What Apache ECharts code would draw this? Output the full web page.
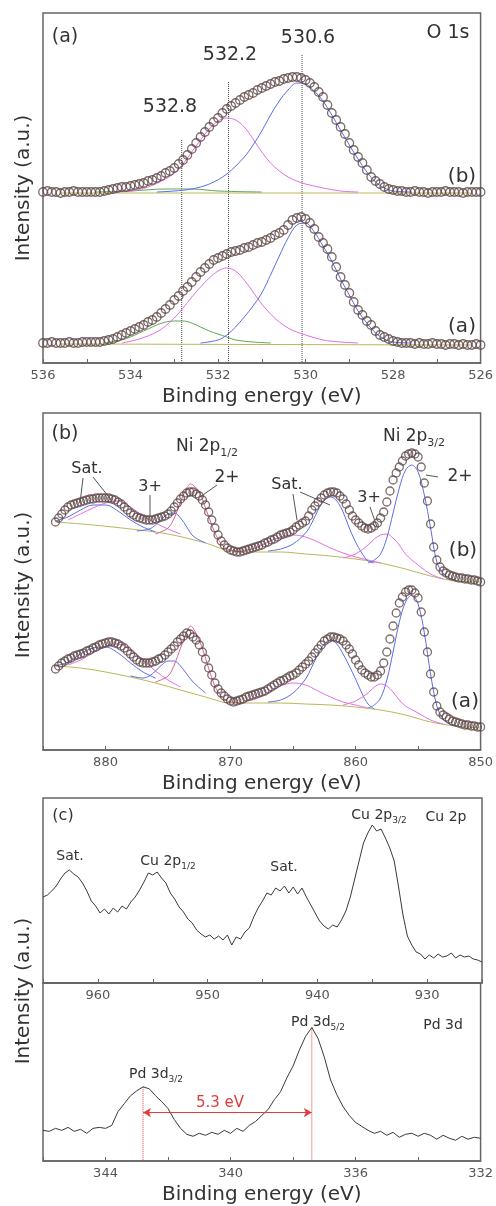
<!DOCTYPE html>
<html>
<head>
<meta charset="utf-8">
<title>XPS spectra</title>
<script src="https://cdn.jsdelivr.net/npm/echarts/dist/echarts.min.js"></script>
<style>
html,body{margin:0;padding:0;background:#fff;}
#chart{width:496px;height:1206px;}
</style>
</head>
<body>
<div id="chart"></div>
<script>
// ---------- (a) O 1s : binding energy grid and spectra (a.u.) ----------
var oBE = [536.0,535.9,535.8,535.7,535.6,535.5,535.4,535.3,535.2,535.1,
           535.0,534.9,534.8,534.7,534.6,534.5,534.4,534.3,534.2,534.1,
           534.0,533.9,533.8,533.7,533.6,533.5,533.4,533.3,533.2,533.1,
           533.0,532.9,532.8,532.7,532.6,532.5,532.4,532.3,532.2,532.1,
           532.0,531.9,531.8,531.7,531.6,531.5,531.4,531.3,531.2,531.1,
           531.0,530.9,530.8,530.7,530.6,530.5,530.4,530.3,530.2,530.1,
           530.0,529.9,529.8,529.7,529.6,529.5,529.4,529.3,529.2,529.1,
           529.0,528.9,528.8,528.7,528.6,528.5,528.4,528.3,528.2,528.1,
           528.0,527.9,527.8,527.7,527.6,527.5,527.4,527.3,527.2,527.1,
           527.0,526.9,526.8,526.7,526.6,526.5,526.4,526.3,526.2,526.1,
           526.0];
// sample (b), upper trace
var oB = [171,172,171,171,170,171,171,172,171,171,
          171,171,171,171,172,173,174,175,176,176,
          177,178,179,180,182,183,185,187,190,192,
          195,199,203,208,214,220,226,231,236,241,
          245,250,254,257,260,263,266,268,270,273,
          275,277,279,281,282,284,285,286,286,285,
          283,280,276,271,266,258,250,243,236,229,
          220,213,206,200,193,186,182,179,176,174,
          173,172,172,171,171,172,171,171,170,171,
          171,171,172,171,171,171,170,171,171,171,
          171];
// sample (a), lower trace
var oA = [20,20,21,20,20,20,21,20,20,21,
          21,21,21,21,22,23,24,26,28,30,
          32,34,36,38,41,43,46,50,54,58,
          63,67,72,76,81,86,91,95,99,103,
          105,107,109,111,112,113,115,116,118,120,
          121,123,125,128,130,133,138,143,145,146,
          144,140,134,126,120,114,106,96,86,78,
          70,61,53,48,42,38,32,28,26,24,
          22,21,20,20,20,19,20,19,19,20,
          19,19,18,19,19,18,19,18,18,19,
          18];
// fitted components [BE, intensity]
var oBblue = [[533.4,171],[533.0,172],[532.6,174],[532.2,179],[531.8,189],[531.4,206],[531.2,218],[531.0,232],[530.8,248],[530.6,262],[530.4,273],[530.2,280],[530.0,279],[529.8,272],[529.6,262],[529.4,248],[529.2,233],[529.0,218],[528.8,204],[528.6,191],[528.4,181],[528.2,175],[528.0,172],[527.6,171]];
var oBmag = [[534.4,171],[534.0,172],[533.6,176],[533.2,184],[533.0,190],[532.8,199],[532.6,211],[532.4,223],[532.2,234],[532.0,242],[531.8,245],[531.6,243],[531.4,236],[531.2,224],[531.0,211],[530.8,200],[530.6,192],[530.4,186],[530.2,182],[530.0,179],[529.6,175],[529.2,172],[528.8,171]];
var oBgreen = [[534.8,171],[534.0,172],[533.2,174],[532.6,174],[532.0,172],[531.0,171]];
var oBbase = [[535.6,170],[526.2,170]];
var oAblue = [[532.4,20],[532.0,23],[531.8,28],[531.6,36],[531.4,46],[531.2,57],[531.0,70],[530.8,88],[530.6,107],[530.4,125],[530.2,138],[530.0,140],[529.8,131],[529.6,117],[529.4,102],[529.2,84],[529.0,68],[528.8,52],[528.6,40],[528.4,30],[528.2,24],[528.0,21],[527.6,20]];
var oAmag = [[534.2,20],[533.8,24],[533.4,31],[533.2,37],[533.0,45],[532.8,55],[532.6,66],[532.4,76],[532.2,85],[532.0,92],[531.8,95],[531.6,92],[531.4,83],[531.2,71],[531.0,59],[530.8,49],[530.6,41],[530.4,35],[530.2,31],[530.0,28],[529.6,23],[529.2,21],[528.8,20]];
var oAgreen = [[534.6,20],[534.2,23],[534.0,26],[533.8,30],[533.6,34],[533.4,38],[533.2,41],[533.0,42],[532.8,42],[532.6,40],[532.4,36],[532.2,32],[532.0,29],[531.8,26],[531.6,23],[531.2,21],[530.8,20]];
var oAbase = [[535.6,19],[526.2,18]];
var oPeakBE = [532.83, 531.76, 530.08];
var oPeakTop = [223, 281, 308];

// ---------- (b) Ni 2p ----------
var nBE = [884,883.75,883.5,883.25,883,882.75,882.5,882.25,
           882,881.75,881.5,881.25,881,880.75,880.5,880.25,
           880,879.75,879.5,879.25,879,878.75,878.5,878.25,
           878,877.75,877.5,877.25,877,876.75,876.5,876.25,
           876,875.75,875.5,875.25,875,874.75,874.5,874.25,
           874,873.75,873.5,873.25,873,872.75,872.5,872.25,
           872,871.75,871.5,871.25,871,870.75,870.5,870.25,
           870,869.75,869.5,869.25,869,868.75,868.5,868.25,
           868,867.75,867.5,867.25,867,866.75,866.5,866.25,
           866,865.75,865.5,865.25,865,864.75,864.5,864.25,
           864,863.75,863.5,863.25,863,862.75,862.5,862.25,
           862,861.75,861.5,861.25,861,860.75,860.5,860.25,
           860,859.75,859.5,859.25,859,858.75,858.5,858.25,
           858,857.75,857.5,857.25,857,856.75,856.5,856.25,
           856,855.75,855.5,855.25,855,854.75,854.5,854.25,
           854,853.75,853.5,853.25,853,852.75,852.5,852.25,
           852,851.75,851.5,851.25,851,850.75,850.5,850.25,
           850];
var nB = [228,232,236,240,243,245,246,247,
          248,249,250,251,251,252,252,252,
          252,252,251,250,248,246,243,240,
          237,235,233,232,231,230,230,230,
          231,232,233,234,236,239,243,247,
          251,254,257,258,258,256,254,250,
          245,238,230,222,215,209,205,202,
          200,199,198,198,199,200,201,202,
          203,204,205,207,208,210,211,213,
          215,216,217,218,220,223,225,227,
          229,234,240,244,248,252,255,257,
          258,258,257,254,251,246,240,234,
          230,227,224,222,221,222,224,227,
          232,238,248,259,270,277,283,289,
          294,296,297,296,293,283,267,249,
          226,203,190,183,179,177,175,174,
          173,172,172,171,171,170,170,169,
          168];
var nA = [81,84,87,89,91,92,94,95,
          96,97,99,100,102,103,105,106,
          107,108,108,107,106,104,102,99,
          96,93,90,88,87,87,87,88,
          89,91,92,95,98,101,104,108,
          111,114,117,116,113,110,105,98,
          91,82,75,67,61,57,54,51,
          49,48,49,50,51,53,54,55,
          56,57,58,59,61,63,65,67,
          69,70,72,74,75,77,80,83,
          86,89,93,97,101,105,109,111,
          113,113,112,111,109,105,101,96,
          90,85,80,77,75,73,73,75,
          79,87,98,111,124,137,147,153,
          158,160,160,157,152,138,118,98,
          76,58,44,38,35,33,31,29,
          28,27,26,25,25,24,24,23,
          23];
var nBbase = [[884,228],[881,225],[878,221],[875,216],[872,207],[870,199],[868,198],[866,198],[864,196],[862,194],[860,191],[858,187],[856,181],[854,174],[852,169],[850,168]];
var nB2p3 = [[859,187],[858.5,190],[858,196],[857.5,212],[857,237],[856.5,262],[856,280],[855.5,285],[855,278],[854.5,255],[854,222],[853.5,188],[853,177],[852.5,172],[852,170]];
var nB3p3 = [[861,192],[860,196],[859,205],[858.5,211],[858,215],[857.5,216],[857,212],[856.5,205],[856,196],[855,185],[854,176],[853,171]];
var nBsat3b = [[867,199],[866,201],[865,206],[864,217],[863.5,227],[863,240],[862.5,250],[862,253],[861.5,249],[861,238],[860.5,222],[860,208],[859.5,197],[859,189],[858.5,187]];
var nBsat3m = [[869,199],[868,202],[867,208],[866,213],[865,215],[864,213],[863,208],[862,202],[861,197],[860,193],[859,190],[858,187]];
var nB2p1 = [[876,216],[875,222],[874.5,232],[874,248],[873.5,262],[873.2,266],[873,265],[872.5,258],[872,242],[871.5,225],[871,211],[870.5,203],[870,200],[869,198]];
var nB3p1 = [[877.5,219],[876.5,221],[876,225],[875.5,231],[875,236],[874.5,237],[874,232],[873.5,223],[873,214],[872,207]];
var nBsat1b = [[884,229],[883,233],[882,240],[881,245],[880,245],[879,239],[878,230],[877,223],[876,218]];
var nBsat1m = [[883,230],[882,236],[881,242],[880,247],[879,249],[878,243],[877,234],[876,227],[875,221],[874,216]];
var nAbase = [[884,84],[882,82],[880,78],[878,73],[876,67],[874,60],[872,53],[870,47],[868,47],[866,47],[864,46],[862,45],[860,43],[858,40],[856,35],[854,28],[852,24],[850,22]];
var nA2p3 = [[859,42],[858.5,45],[858,52],[857.5,70],[857,98],[856.5,128],[856,148],[855.5,155],[855,146],[854.5,117],[854,76],[853.5,44],[853,31],[852.5,26],[852,24]];
var nA3p3 = [[861,45],[860,49],[859,57],[858.5,63],[858,66],[857.5,64],[857,58],[856.5,50],[856,44],[855,37],[854,30],[853,26]];
var nAsat3b = [[867,48],[866,50],[865,57],[864,71],[863.5,83],[863,96],[862.5,106],[862,110],[861.5,106],[861,96],[860.5,84],[860,71],[859.5,57],[859,46],[858.5,41]];
var nAsat3m = [[869,48],[868,51],[867,57],[866,64],[865,67],[864,65],[863,59],[862,53],[861,48],[860,45],[859,42]];
var nA2p1 = [[876,68],[875,74],[874.5,85],[874,102],[873.5,118],[873.2,124],[873,122],[872.5,110],[872,92],[871.5,72],[871,58],[870.5,51],[870,48],[869,47]];
var nA3p1 = [[878,74],[877,72],[876.5,74],[876,79],[875.5,85],[875,89],[874.5,89],[874,84],[873.5,76],[873,68],[872,57]];
var nAsat1b = [[884,84],[883,88],[882,96],[881,102],[880,103],[879,97],[878,87],[877,78],[876,72]];
var nAsat1m = [[883,85],[882,90],[881,97],[880,104],[879,106],[878,100],[877,90],[876,79],[875,70],[874,63]];

// ---------- (c) Cu 2p ----------
var cuBE = [965,964.6,964.2,963.8,963.4,963,962.6,962.2,961.8,961.4,
            961,960.6,960.2,959.8,959.4,959,958.6,958.2,957.8,957.4,
            957,956.6,956.2,955.8,955.4,955,954.6,954.2,953.8,953.4,
            953,952.6,952.2,951.8,951.4,951,950.6,950.2,949.8,949.4,
            949,948.6,948.2,947.8,947.4,947,946.6,946.2,945.8,945.4,
            945,944.6,944.2,943.8,943.4,943,942.6,942.2,941.8,941.4,
            941,940.6,940.2,939.8,939.4,939,938.6,938.2,937.8,937.4,
            937,936.6,936.2,935.8,935.4,935,934.6,934.2,933.8,933.4,
            933,932.6,932.2,931.8,931.4,931,930.6,930.2,929.8,929.4,
            929,928.6,928.2,927.8,927.4,927,926.6,926.2,925.8,925.4,
            925];
var cuVal = [86,88,92,97,104,110,113,109,106,100,
             92,82,77,70,74,69,75,71,77,74,
             81,86,93,101,110,108,111,105,100,90,
             84,76,71,64,60,53,49,46,48,44,
             47,43,48,38,46,44,51,55,66,75,
             82,90,88,95,92,97,90,96,89,95,
             86,78,70,62,57,54,58,56,63,72,
             86,104,122,140,150,158,152,154,145,135,
             122,96,68,47,38,31,29,24,28,25,
             29,26,27,30,25,28,26,27,24,23,
             21];

// ---------- (c) Pd 3d ----------
var pdBE = [346,345.8,345.6,345.4,345.2,345,344.8,344.6,344.4,344.2,
            344,343.8,343.6,343.4,343.2,343,342.8,342.6,342.4,342.2,
            342,341.8,341.6,341.4,341.2,341,340.8,340.6,340.4,340.2,
            340,339.8,339.6,339.4,339.2,339,338.8,338.6,338.4,338.2,
            338,337.8,337.6,337.4,337.2,337,336.8,336.6,336.4,336.2,
            336,335.8,335.6,335.4,335.2,335,334.8,334.6,334.4,334.2,
            334,333.8,333.6,333.4,333.2,333,332.8,332.6,332.4,332.2,
            332];
var pdVal = [31,30,33,31,34,30,32,28,33,34,
             33,36,50,58,66,71,75,73,66,60,
             53,42,33,27,25,28,26,29,27,31,
             28,33,30,36,40,46,52,62,70,84,
             96,112,126,135,124,105,82,67,55,46,
             39,35,31,28,30,26,29,24,27,28,
             25,28,26,22,26,23,21,25,22,24,
             23];
var pdPeakBE = [342.8, 337.4];
var pdPeakTop = [75, 135];
var pdArrowY = 49;

var FONT = 'DejaVu Sans';
var frame = '#666';

function pts(xs, ys) {
  return xs.map(function (x, i) { return [x, ys[i]]; });
}
function comp(data, idx, color) {
  return {type: 'line', xAxisIndex: idx, yAxisIndex: idx, data: data, smooth: 0.35,
          symbol: 'none', silent: true, z: 2, lineStyle: {color: color, width: 1}};
}
function circles(data, idx, size) {
  return {type: 'scatter', xAxisIndex: idx, yAxisIndex: idx, data: data, symbol: 'circle',
          symbolSize: size, silent: true, z: 3,
          itemStyle: {color: 'rgba(255,255,255,0)', borderColor: '#5c4545', borderWidth: 1.3}};
}
function noisy(data, idx) {
  return {type: 'line', xAxisIndex: idx, yAxisIndex: idx, data: data, symbol: 'none',
          silent: true, z: 3, lineStyle: {color: '#3a3a3a', width: 1}};
}
function vline(be, top, idx, color) {
  return {type: 'line', xAxisIndex: idx, yAxisIndex: idx, data: [[be, top], [be, 0]],
          symbol: 'none', silent: true, z: 1, lineStyle: {color: color, width: 1, type: 'dotted'}};
}
function xaxis(idx, min, max, step, every, name) {
  return {
    type: 'value', gridIndex: idx, inverse: true, min: min, max: max, interval: step,
    name: name || '', nameLocation: 'middle', nameGap: 24,
    nameTextStyle: {fontFamily: FONT, fontSize: 20, color: '#333'},
    axisLine: {lineStyle: {color: frame, width: 1.5}},
    axisTick: {inside: true, length: 4, lineStyle: {color: frame}},
    axisLabel: {fontFamily: FONT, fontSize: 13, color: '#555', margin: 6,
      formatter: function (v) { return v % every === 0 ? String(v) : ''; }},
    splitLine: {show: false}
  };
}
function yaxis(idx, max) {
  return {type: 'value', gridIndex: idx, min: 0, max: max, show: true,
          axisLine: {show: false}, axisTick: {show: false}, axisLabel: {show: false},
          splitLine: {show: false}};
}
function txt(x, y, s, size, extra) {
  var st = {text: s, x: 0, y: 0, fontFamily: FONT, fontSize: size, fill: '#333',
            align: 'center', verticalAlign: 'middle'};
  if (extra) for (var k in extra) st[k] = extra[k];
  return {type: 'text', x: x, y: y, style: st, z: 100};
}
function sub(x, y, main, lo, size, color) {
  return txt(x, y, '{m|' + main + '}{s|' + lo + '}', size, {
    fill: color || '#333',
    rich: {m: {fontFamily: FONT, fontSize: size, lineHeight: size + 6, verticalAlign: 'middle'},
           s: {fontFamily: FONT, fontSize: Math.round(size * 0.62), verticalAlign: 'bottom'}}
  });
}
function seg(x1, y1, x2, y2) {
  return {type: 'line', shape: {x1: x1, y1: y1, x2: x2, y2: y2},
          style: {stroke: '#555', lineWidth: 1}, z: 100};
}
function ytitle(y) {
  return {type: 'text', x: 24, y: y, rotation: Math.PI / 2, z: 100,
          style: {text: 'Intensity (a.u.)', fontFamily: FONT, fontSize: 20, fill: '#333',
                  align: 'center', verticalAlign: 'middle'}};
}

var gridBox = {left: 43, right: 14, show: true, borderColor: frame, borderWidth: 1.5,
               backgroundColor: 'transparent'};
function grid(top, h) {
  return Object.assign({}, gridBox, {top: top, height: h});
}

var blue = '#5b6ee8', mag = '#e46fe0', green = '#62a65a', olive = '#b9b85a', red = '#e23b3b';

var series = [
  // (a) O 1s
  comp(oBbase, 0, olive), comp(oBgreen, 0, green), comp(oBmag, 0, mag), comp(oBblue, 0, blue),
  comp(oAbase, 0, olive), comp(oAgreen, 0, green), comp(oAmag, 0, mag), comp(oAblue, 0, blue),
  circles(pts(oBE, oB), 0, 8.5), circles(pts(oBE, oA), 0, 8.5),
  // (b) Ni 2p
  comp(nBbase, 1, olive), comp(nBsat1b, 1, blue), comp(nBsat1m, 1, mag), comp(nB3p1, 1, blue),
  comp(nB2p1, 1, '#e2609a'), comp(nBsat3m, 1, mag), comp(nBsat3b, 1, blue),
  comp(nB3p3, 1, mag), comp(nB2p3, 1, blue),
  comp(nAbase, 1, olive), comp(nAsat1b, 1, blue), comp(nAsat1m, 1, mag), comp(nA3p1, 1, blue),
  comp(nA2p1, 1, '#e2609a'), comp(nAsat3m, 1, mag), comp(nAsat3b, 1, blue),
  comp(nA3p3, 1, mag), comp(nA2p3, 1, blue),
  circles(pts(nBE, nB), 1, 8), circles(pts(nBE, nA), 1, 8),
  // (c) Cu 2p and Pd 3d
  noisy(pts(cuBE, cuVal), 2),
  noisy(pts(pdBE, pdVal), 3)
];
oPeakBE.forEach(function (be, i) { series.push(vline(be, oPeakTop[i], 0, '#444')); });
pdPeakBE.forEach(function (be, i) { series.push(vline(be, pdPeakTop[i], 3, red)); });
series[series.length - 1].markLine = {
  silent: true, symbol: ['arrow', 'arrow'], symbolSize: [7, 8],
  lineStyle: {color: red, width: 1, type: 'solid'}, label: {show: false},
  data: [[{coord: [pdPeakBE[0], pdArrowY]}, {coord: [pdPeakBE[1], pdArrowY]}]]
};

var graphics = [
  // (a)
  txt(65, 37, '(a)', 19), txt(448, 33, 'O 1s', 19),
  txt(170, 107, '532.8', 19), txt(230, 55, '532.2', 19), txt(308, 38, '530.6', 19),
  txt(462, 177, '(b)', 20), txt(462, 327, '(a)', 20),
  ytitle(188),
  // (b)
  txt(65, 434, '(b)', 19),
  sub(207, 447, 'Ni 2p', '1/2', 17), sub(414, 437, 'Ni 2p', '3/2', 17),
  txt(87, 469, 'Sat.', 16), txt(150, 487, '3+', 16), txt(227, 478, '2+', 17),
  txt(287, 485, 'Sat.', 16), txt(369, 498, '3+', 16), txt(460, 477, '2+', 17),
  seg(83, 478, 80, 503), seg(93, 477, 112, 501),
  seg(150, 495, 150, 517), seg(217, 485, 200, 497),
  seg(293, 494, 297, 520), seg(300, 492, 330, 505),
  seg(370, 507, 377, 527), seg(438, 477, 426, 475),
  txt(463, 551, '(b)', 20), txt(465, 702, '(a)', 20),
  ytitle(585),
  // (c)
  txt(63, 816, '(c)', 16), txt(446, 817, 'Cu 2p', 14),
  sub(379, 815, 'Cu 2p', '3/2', 14), txt(70, 856, 'Sat.', 14),
  sub(168, 861, 'Cu 2p', '1/2', 14), txt(284, 867, 'Sat.', 14),
  txt(443, 1025, 'Pd 3d', 14), sub(318, 1022, 'Pd 3d', '5/2', 14),
  sub(156, 1074, 'Pd 3d', '3/2', 14),
  txt(220, 1103, '5.3 eV', 15, {fill: red}),
  ytitle(991)
];

var myChart = echarts.init(document.getElementById('chart'));
var option = {
  animation: false,
  backgroundColor: '#fff',
  textStyle: {fontFamily: FONT},
  grid: [grid(13, 350), grid(413, 337), grid(798, 185), grid(983, 180)],
  xAxis: [
    xaxis(0, 526, 536, 1, 2, 'Binding energy (eV)'),
    xaxis(1, 850, 885, 5, 10, 'Binding energy (eV)'),
    xaxis(2, 925, 965, 5, 10),
    xaxis(3, 332, 346, 2, 4, 'Binding energy (eV)')
  ],
  yAxis: [yaxis(0, 350), yaxis(1, 337), yaxis(2, 185), yaxis(3, 180)],
  series: series,
  graphic: graphics
};
myChart.setOption(option);
window.onresize = myChart.resize;
</script>
</body>
</html>
